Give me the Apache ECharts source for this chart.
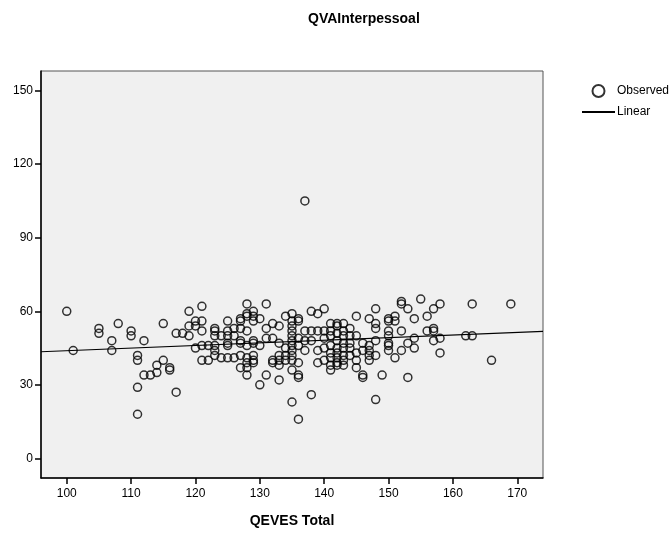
<!DOCTYPE html>
<html>
<head>
<meta charset="utf-8">
<script src="https://cdn.jsdelivr.net/npm/echarts@6/dist/echarts.min.js"></script>
<style>
  html, body { margin: 0; padding: 0; background: #fff; }
  #main { width: 672px; height: 533px; }
</style>
</head>
<body>
<div id="main"></div>
<script>
// observed points (QEVES Total, QVAInterpessoal)
var xs = [100,101,105,105,107,107,108,110,110,111,111,111,111,112,112,113,114,114,115,115,116,116,117,117,118,
  119,119,119,120,120,120,121,121,121,121,121,122,122,123,123,123,123,123,123,124,124,125,125,125,125,125,125,
  126,126,126,127,127,127,127,127,127,127,128,128,128,128,128,128,128,128,128,129,129,129,129,129,129,129,129,
  130,130,130,131,131,131,131,132,132,132,132,133,133,133,133,133,133,134,134,134,134,
  135,135,135,135,135,135,135,135,135,135,135,135,136,136,136,136,136,136,136,136,137,137,137,137,
  138,138,138,138,139,139,139,139,140,140,140,140,140,141,141,141,141,141,141,141,141,
  142,142,142,142,142,142,142,142,142,143,143,143,143,143,143,143,143,144,144,144,144,144,
  145,145,145,145,145,146,146,146,146,147,147,147,147,147,148,148,148,148,148,148,149,
  150,150,150,150,150,150,150,151,151,151,152,152,152,152,153,153,153,154,154,154,155,
  156,156,157,157,157,157,158,158,158,162,163,163,166,169];
var ys = [60,44,53,51,48,44,55,52,50,42,40,29,18,48,34,34,35,38,40,55,37,36,51,27,51,
  60,54,50,56,54,45,62,56,52,46,40,46,40,53,52,50,46,44,42,50,41,56,52,50,47,46,41,
  53,50,41,57,56,53,48,47,42,37,63,59,58,52,46,41,39,37,34,60,58,56,48,47,42,40,39,
  57,46,30,63,53,49,34,55,49,40,39,54,47,42,40,38,32,58,45,42,40,
  59,56,54,52,50,48,46,44,42,40,36,23,57,56,49,46,39,34,33,16,105,52,48,44,
  60,52,48,26,59,52,44,39,61,52,49,45,40,55,52,50,46,43,41,38,36,
  55,54,51,48,45,43,41,39,38,55,52,50,47,45,42,40,38,53,50,47,45,42,
  58,50,43,40,37,47,44,34,33,57,46,44,42,40,61,55,53,48,42,24,34,
  57,56,52,50,47,46,44,58,56,41,64,63,52,44,61,47,33,57,49,45,65,
  58,52,61,53,52,48,63,49,43,50,50,63,40,63];

// fitted line end points
var fitX = [96, 174];
var fitY = [43.5, 51.8];

var xTicks = [100, 110, 120, 130, 140, 150, 160, 170];
var yTicks = [0, 30, 60, 90, 120, 150];

var observed = xs.map(function (x, i) { return [x, ys[i]]; });
var linear = fitX.map(function (x, i) { return [x, fitY[i]]; });

var myChart = echarts.init(document.getElementById('main'));

var font = 'Liberation Sans, Arial, sans-serif';

var option = {
    animation: false,
    backgroundColor: '#fff',
    title: {
        text: 'QVAInterpessoal',
        left: 308,
        top: 12,
        padding: 0,
        textStyle: { fontFamily: font, fontSize: 14, fontWeight: 'bold', color: '#000' }
    },
    legend: {
        orient: 'vertical',
        left: 581,
        top: 84,
        padding: 0,
        itemWidth: 33,
        itemHeight: 12,
        itemGap: 8,
        textStyle: { fontFamily: font, fontSize: 12, color: '#000', padding: [0, 0, 0, -3] },
        data: [
            { name: 'Observed', icon: 'circle' },
            { name: 'Linear', itemStyle: { color: 'rgba(0,0,0,0)', borderWidth: 0, opacity: 0 } }
        ]
    },
    grid: {
        left: 41,
        right: 129,
        top: 71,
        bottom: 52,
        show: true,
        backgroundColor: '#f0f0f0',
        borderColor: '#555',
        borderWidth: 1
    },
    xAxis: {
        type: 'value',
        min: 96,
        max: 174,
        name: 'QEVES Total',
        nameLocation: 'middle',
        nameGap: 36,
        nameTextStyle: { fontFamily: font, fontSize: 14, fontWeight: 'bold', color: '#000' },
        splitLine: { show: false },
        axisLine: { show: true, onZero: false, lineStyle: { color: '#000', width: 1.5 } },
        axisTick: { show: true, length: 6, customValues: xTicks, lineStyle: { color: '#000', width: 1.5 } },
        axisLabel: { customValues: xTicks, margin: 10, fontFamily: font, fontSize: 12, color: '#000' }
    },
    yAxis: {
        type: 'value',
        min: -8,
        max: 158,
        splitLine: { show: false },
        axisLine: { show: true, onZero: false, lineStyle: { color: '#000', width: 1.5 } },
        axisTick: { show: true, length: 6, customValues: yTicks, lineStyle: { color: '#000', width: 1.5 } },
        axisLabel: { customValues: yTicks, margin: 8, fontFamily: font, fontSize: 12, color: '#000' }
    },
    series: [
        {
            name: 'Observed',
            type: 'scatter',
            symbol: 'circle',
            symbolSize: 8,
            itemStyle: { color: 'rgba(0,0,0,0)', borderColor: '#000', borderWidth: 1.5 },
            data: observed
        },
        {
            name: 'Linear',
            type: 'line',
            symbol: 'none',
            lineStyle: { color: '#000', width: 1.2 },
            itemStyle: { color: '#000' },
            data: linear
        }
    ]
};

myChart.setOption(option);
</script>
</body>
</html>
